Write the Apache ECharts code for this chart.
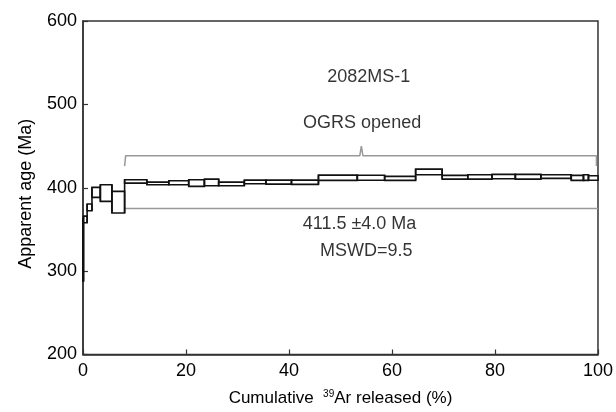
<!DOCTYPE html>
<html>
<head>
<meta charset="utf-8">
<script src="https://cdn.jsdelivr.net/npm/echarts@6/dist/echarts.min.js"></script>
<style>html,body{margin:0;padding:0;background:#fff}#c{width:616px;height:412px}</style>
</head>
<body>
<div id="c"></div>
<script>
// Step boundaries (cumulative 39Ar %), and age ranges (Ma) for each step
const stepStart = [0, 0.1, 0.8, 1.74, 3.37, 5.62, 8.08, 12.4, 16.66, 20.53, 23.58, 26.35, 31.33, 35.53, 40.49, 45.72, 53.27, 58.58, 64.59, 69.74, 74.72, 79.43, 83.96, 88.92, 94.81, 97.19, 98.16];
const stepEnd   = [0.1, 0.8, 1.74, 3.37, 5.62, 8.08, 12.4, 16.66, 20.53, 23.58, 26.35, 31.33, 35.53, 40.49, 45.72, 53.27, 58.58, 64.59, 69.74, 74.72, 79.43, 83.96, 88.92, 94.81, 97.19, 98.16, 100];
const ageLow    = [288, 358, 372.5, 388.4, 383.6, 369.7, 405.6, 403.6, 403.6, 401.6, 402.4, 402.4, 404.8, 404.4, 404, 408.8, 409, 408.8, 415.6, 410.4, 410.4, 410.8, 410.4, 411.2, 408.8, 408.8, 409];
const ageHigh   = [362, 366, 380.5, 400.4, 403.6, 395.6, 409.6, 406.8, 408.4, 409.6, 410.4, 406.8, 409.2, 409.2, 409.2, 415.2, 415, 413.6, 422.3, 414.8, 415.6, 416, 416, 415.6, 414.8, 415.6, 414.4];

const plateauStart = 8.08, plateauEnd = 100, plateauLine = 375;
const bracketTop = 438.5, bracketFoot = 426, bracketPeak = 450, bracketMid = 54.05;

const xTicks = [0, 20, 40, 60, 80, 100];
const yTicks = [200, 300, 400, 500, 600];

const sampleName = '2082MS-1';
const bracketLabel = 'OGRS opened';
const ageLabel = '411.5 ±4.0 Ma';
const mswdLabel = 'MSWD=9.5';

const FONT = 'Liberation Sans, Arial, sans-serif';

const stepData = stepStart.map((s, i) => [
  s, stepEnd[i], ageLow[i], ageHigh[i],
  i > 0 ? ageLow[i - 1] : ageLow[i], i > 0 ? ageHigh[i - 1] : ageHigh[i]
]);

const chart = echarts.init(document.getElementById('c'), null, {renderer: 'canvas'});

const textStyle = {fontFamily: FONT, fontSize: 18, color: '#000'};

function labelPoint(x, y, text) {
  return {value: [x, y], label: {show: true, formatter: text, position: 'inside', ...textStyle}};
}

chart.setOption({
  animation: false,
  backgroundColor: '#fff',
  grid: {left: 83, right: 17, top: 21, bottom: 57, show: true, borderColor: '#333', borderWidth: 1.5},
  xAxis: {
    type: 'value', min: xTicks[0], max: xTicks[xTicks.length - 1], interval: 20,
    axisLine: {lineStyle: {color: '#333', width: 1.5}},
    axisTick: {inside: true, length: 5, lineStyle: {color: '#333', width: 1.2}},
    axisLabel: {margin: 8, ...textStyle},
    splitLine: {show: false},
    name: 'Cumulative  {sup|39}Ar released (%)',
    nameLocation: 'middle', nameGap: 35,
    nameTextStyle: {fontFamily: FONT, fontSize: 17, color: '#000', rich: {sup: {fontFamily: FONT, fontSize: 10, color: '#000', verticalAlign: 'top', padding: [0, 0, 8, 0]}}}
  },
  yAxis: {
    type: 'value', min: yTicks[0], max: yTicks[yTicks.length - 1], interval: 100,
    axisLine: {lineStyle: {color: '#333', width: 1.5}},
    axisTick: {inside: true, length: 5, lineStyle: {color: '#333', width: 1.2}},
    axisLabel: {margin: 6, ...textStyle},
    splitLine: {show: false},
    name: 'Apparent age (Ma)', nameLocation: 'middle', nameGap: 48,
    nameTextStyle: {...textStyle, padding: [0, 12, 0, 0]}
  },
  series: [
    {
      type: 'custom',
      data: stepData,
      encode: {x: [0, 1], y: [2, 3]},
      renderItem: function (params, api) {
        const x0 = api.value(0), x1 = api.value(1), lo = api.value(2), hi = api.value(3);
        const plo = api.value(4), phi = api.value(5);
        const p0 = api.coord([x0, hi]);
        const p1 = api.coord([x1, lo]);
        const cLo = api.coord([x0, Math.min(lo, plo)]);
        const cHi = api.coord([x0, Math.max(hi, phi)]);
        return {
          type: 'group',
          children: [
            {type: 'rect', shape: {x: p0[0], y: p0[1], width: p1[0] - p0[0], height: p1[1] - p0[1]},
             style: {fill: '#fff', stroke: '#111', lineWidth: 1.6}},
            {type: 'line', shape: {x1: cLo[0], y1: cLo[1], x2: cHi[0], y2: cHi[1]},
             style: {stroke: '#111', lineWidth: 1.6}}
          ]
        };
      },
      z: 3
    },
    {
      type: 'line', silent: true, symbol: 'none',
      lineStyle: {color: '#999', width: 1.5},
      data: [[plateauStart, plateauLine], [plateauEnd, plateauLine]],
      z: 2
    },
    {
      type: 'line', silent: true, symbol: 'none',
      lineStyle: {color: '#999', width: 1.5},
      data: [[plateauStart, bracketFoot], [plateauStart + 0.2, bracketTop], [bracketMid - 0.3, bracketTop], [bracketMid, bracketPeak],
             [bracketMid + 0.3, bracketTop], [plateauEnd - 0.3, bracketTop], [plateauEnd - 0.3, bracketFoot]],
      z: 2
    },
    {
      type: 'scatter', silent: true, symbolSize: 0,
      data: [
        labelPoint(55.5, 533.3, sampleName),
        labelPoint(54.2, 478.2, bracketLabel),
        labelPoint(53.7, 356.5, ageLabel),
        labelPoint(55.0, 323.7, mswdLabel)
      ],
      z: 4
    }
  ]
});
</script>
</body>
</html>
